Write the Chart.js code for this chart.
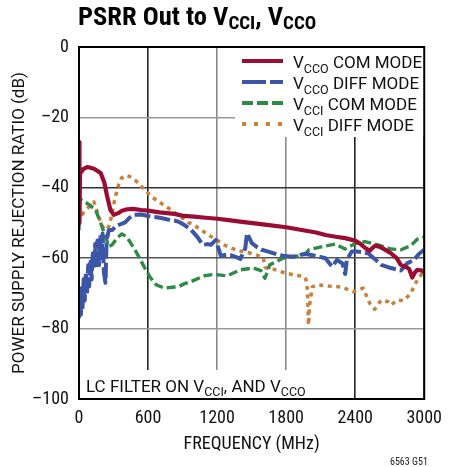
<!DOCTYPE html>
<html lang="en">
<head>
<meta charset="UTF-8">
<title>PSRR Out to VCCI, VCCO</title>
<script src="https://cdn.jsdelivr.net/npm/chart.js"></script>
<style>
  body { margin: 0; background: #fff; }
  canvas { display: block; }
</style>
</head>
<body>
<canvas id="psrr" width="451" height="467"></canvas>
<script>
// Frequency (MHz) / PSRR (dB) for each supply and mode
const freqVccoCom = [0, 4, 9, 40, 74, 130, 188, 220, 245, 273, 302, 340, 373, 420, 472, 540, 600, 700, 828, 913, 1000, 1100, 1203, 1300, 1400, 1545, 1650, 1801, 1886, 1972, 2060, 2142, 2230, 2313, 2398, 2440, 2484, 2526, 2569, 2600, 2640, 2711, 2760, 2797, 2840, 2868, 2896, 2920, 2939, 2981, 3000];
const psrrVccoCom = [-27, -50, -36, -34.6, -34.1, -34.6, -35.8, -38.5, -42.5, -46.3, -47.7, -47.2, -46.5, -46.1, -46.0, -46.3, -46.5, -47.0, -47.4, -48.0, -48.2, -48.5, -48.8, -49.2, -49.6, -50.2, -50.6, -51.2, -51.7, -52.2, -52.7, -53.4, -53.9, -54.3, -55.0, -55.8, -57.0, -57.9, -56.5, -56.6, -57.2, -58.6, -60.0, -61.9, -62.5, -63.0, -65.5, -64.0, -63.3, -63.5, -64.0];

const freqVccoDiff = [0, 8, 17, 25, 31, 40, 50, 60, 70, 80, 88, 100, 110, 120, 131, 140, 150, 160, 174, 185, 195, 205, 216, 230, 240, 259, 290, 316, 350, 401, 440, 472, 540, 600, 660, 714, 770, 828, 862, 913, 976, 1030, 1075, 1118, 1146, 1189, 1232, 1280, 1317, 1360, 1402, 1445, 1460, 1502, 1545, 1588, 1630, 1673, 1720, 1772, 1830, 1886, 1930, 1972, 2050, 2142, 2199, 2242, 2290, 2313, 2327, 2370, 2413, 2460, 2512, 2570, 2626, 2711, 2797, 2854, 2911, 2953, 3000];
const psrrVccoDiff = [-77, -72, -76, -68, -74, -66, -72, -64, -70, -62, -68, -61, -66, -58, -63, -56, -62, -55, -62, -54, -60, -53, -64, -67, -55, -52, -52, -51, -50.5, -49.8, -48.5, -47.7, -47.6, -48, -48.3, -48.6, -49, -49.3, -49.6, -50.5, -52, -54, -56.2, -56, -56.2, -54.8, -59.3, -59, -59.1, -59.6, -60.2, -57.2, -52.9, -55.7, -56.8, -57.6, -58, -58.4, -58.9, -59.3, -59.5, -59.5, -59, -58.8, -59.3, -60, -62.4, -60.5, -61.5, -64.5, -60.5, -58.1, -58.1, -58.3, -58.6, -60.2, -61.9, -62.8, -63.5, -61.4, -60.5, -58.8, -57.6];

const freqVcciCom = [0, 3, 8, 17, 50, 88, 145, 188, 230, 259, 288, 330, 373, 416, 487, 572, 620, 672, 743, 828, 862, 913, 976, 1090, 1175, 1289, 1402, 1517, 1580, 1616, 1658, 1772, 1886, 1972, 2000, 2114, 2228, 2313, 2398, 2484, 2597, 2711, 2797, 2882, 2939, 3000];
const psrrVcciCom = [-52, -48, -43, -43.4, -44, -44.8, -46.3, -50, -53.8, -56.7, -56.2, -54.3, -53.1, -54, -57.6, -62.8, -65.5, -67.6, -68.5, -68.2, -68.1, -67.3, -66.6, -65, -64.6, -65, -63.3, -62.8, -63.5, -65.7, -61.9, -60, -59.5, -58.6, -57.6, -56.7, -56, -57.4, -55.9, -55.3, -56.2, -57.4, -57.6, -56.5, -54.6, -54];

const freqVcciDiff = [0, 15, 30, 50, 70, 100, 130, 160, 180, 205, 230, 259, 282, 300, 316, 344, 370, 401, 440, 472, 543, 629, 714, 800, 885, 947, 1000, 1061, 1146, 1260, 1374, 1445, 1517, 1602, 1616, 1630, 1687, 1772, 1858, 1957, 1972, 1985, 1994, 2005, 2028, 2085, 2171, 2285, 2384, 2469, 2526, 2569, 2626, 2683, 2711, 2768, 2825, 2882, 2939, 3000];
const psrrVcciDiff = [-45, -46.5, -47.5, -46.5, -46, -45, -44, -47, -49, -51, -52, -51, -48.2, -45, -42.5, -39.2, -37.2, -36.5, -36.8, -37.3, -39.6, -42.5, -44.4, -46.3, -48.3, -49.8, -50.6, -52, -53.8, -56.2, -57.8, -58.2, -58.8, -59.8, -62.5, -62.8, -63.1, -64, -64.7, -65.2, -66, -69, -79, -73, -68.1, -67.6, -67.9, -68.2, -69.5, -68.5, -72.8, -74.5, -71.9, -72.3, -73.3, -71.9, -72, -70, -66.2, -63.5];

const xTicks = [0, 600, 1200, 1800, 2400, 3000];
const yTicks = [0, -20, -40, -60, -80, -100];

const NARROW = '"Roboto Condensed", Roboto, sans-serif';
const PLAIN = 'Roboto, sans-serif';

function points(xs, ys) {
  return xs.map((x, i) => ({ x: x, y: ys[i] }));
}

// draws a run of [text, isSubscript] pieces starting at x, returns end x
function drawRuns(ctx, runs, x, y, size, subSize, subDrop, family, weight) {
  ctx.textAlign = 'left';
  ctx.textBaseline = 'alphabetic';
  runs.forEach(([txt, sub]) => {
    ctx.font = (weight || 'normal') + ' ' + (sub ? subSize : size) + 'px ' + family;
    ctx.fillText(txt, x, sub ? y + subDrop : y);
    x += ctx.measureText(txt).width;
  });
  return x;
}

const series = [
  { color: '#9b0c33', dash: [], keyDash: [], width: 4.2, label: 'CCO', mode: ' COM MODE' },
  { color: '#3b55a7', dash: [16, 4], keyDash: [24, 4], width: 4, label: 'CCO', mode: ' DIFF MODE' },
  { color: '#2e8b47', dash: [9, 4], keyDash: [11, 4], width: 3.4, label: 'CCI', mode: ' COM MODE' },
  { color: '#c8803c', dash: [4, 4.5], keyDash: [4, 8], width: 3.5, label: 'CCI', mode: ' DIFF MODE' }
];

const decorations = {
  id: 'decorations',
  afterDatasetsDraw(chart) {
    const ctx = chart.ctx;
    const a = chart.chartArea;
    ctx.save();

    // legend box
    ctx.fillStyle = '#fff';
    ctx.fillRect(235, a.top, a.right - 235, 137 - a.top);
    series.forEach((s, i) => {
      const ly = 61 + i * 21;
      ctx.beginPath();
      ctx.setLineDash(s.keyDash);
      ctx.strokeStyle = s.color;
      ctx.lineWidth = 4;
      ctx.moveTo(242, ly);
      ctx.lineTo(283, ly);
      ctx.stroke();
      ctx.setLineDash([]);
      ctx.fillStyle = '#111';
      drawRuns(ctx, [['V', false], [s.label, true], [s.mode, false]], 293, ly + 7, 17, 12.5, 5, PLAIN);
    });

    // filter note
    ctx.fillStyle = '#fff';
    ctx.fillRect(a.left + 2, 370, 234, a.bottom - 371);
    ctx.fillStyle = '#111';
    drawRuns(ctx, [['LC FILTER ON V', false], ['CCI', true], [', AND V', false], ['CCO', true]], 86, 392, 17, 12.5, 4, PLAIN);

    // plot frame
    ctx.strokeStyle = '#000';
    ctx.lineWidth = 2;
    ctx.strokeRect(a.left, a.top, a.right - a.left, a.bottom - a.top);
    ctx.restore();
  },
  afterDraw(chart) {
    const ctx = chart.ctx;
    ctx.save();
    ctx.fillStyle = '#000';
    drawRuns(ctx, [['PSRR Out to V', false], ['CCI', true], [', V', false], ['CCO', true]], 78, 25, 26.5, 19, 4, NARROW, 'bold');
    ctx.fillStyle = '#222';
    ctx.font = '10px ' + NARROW;
    ctx.fillText('6563 G51', 390, 465);
    ctx.restore();
  }
};

new Chart(document.getElementById('psrr'), {
  type: 'line',
  data: {
    datasets: [
      { data: points(freqVccoCom, psrrVccoCom) },
      { data: points(freqVccoDiff, psrrVccoDiff) },
      { data: points(freqVcciCom, psrrVcciCom) },
      { data: points(freqVcciDiff, psrrVcciDiff) }
    ].map((d, i) => Object.assign(d, {
      borderColor: series[i].color,
      borderWidth: series[i].width,
      borderDash: series[i].dash,
      pointRadius: 0,
      fill: false,
      tension: 0,
      borderJoinStyle: 'round'
    }))
  },
  options: {
    responsive: false,
    animation: false,
    layout: { padding: { top: 47, right: 20, left: 0, bottom: 0 } },
    plugins: { legend: { display: false }, title: { display: false }, tooltip: { enabled: false } },
    scales: {
      x: {
        type: 'linear',
        min: 0,
        max: 3000,
        afterFit: s => { s.height = 68; },
        afterBuildTicks: s => { s.ticks = xTicks.map(v => ({ value: v })); },
        ticks: { color: '#111', padding: 9, font: { family: NARROW, size: 18 }, callback: v => String(v) },
        grid: {
          drawTicks: false,
          lineWidth: 1.6,
          color: c => (c.tick.value === 600 || c.tick.value === 2400) ? '#222' : '#8a8a8a'
        },
        border: { display: true, color: '#000', width: 2 },
        title: { display: true, text: 'FREQUENCY (MHz)', color: '#111', padding: { top: 4, bottom: 12 }, font: { family: NARROW, size: 18 } }
      },
      y: {
        min: -100,
        max: 0,
        afterFit: s => { s.width = 79; },
        afterBuildTicks: s => { s.ticks = yTicks.map(v => ({ value: v })); },
        ticks: {
          color: '#111',
          padding: 10,
          font: { family: NARROW, size: 18 },
          callback: v => v === 0 ? '0' : '\u2013' + Math.abs(v)
        },
        grid: {
          drawTicks: false,
          lineWidth: 1.6,
          color: c => c.tick.value === -40 ? '#333' : (c.tick.value === -60 ? '#555' : '#999')
        },
        border: { display: true, color: '#000', width: 2 },
        title: { display: true, text: 'POWER SUPPLY REJECTION RATIO (dB)', color: '#111', padding: { top: 9.5, bottom: 4 }, font: { family: PLAIN, size: 17 } }
      }
    }
  },
  plugins: [decorations]
});
</script>
</body>
</html>
